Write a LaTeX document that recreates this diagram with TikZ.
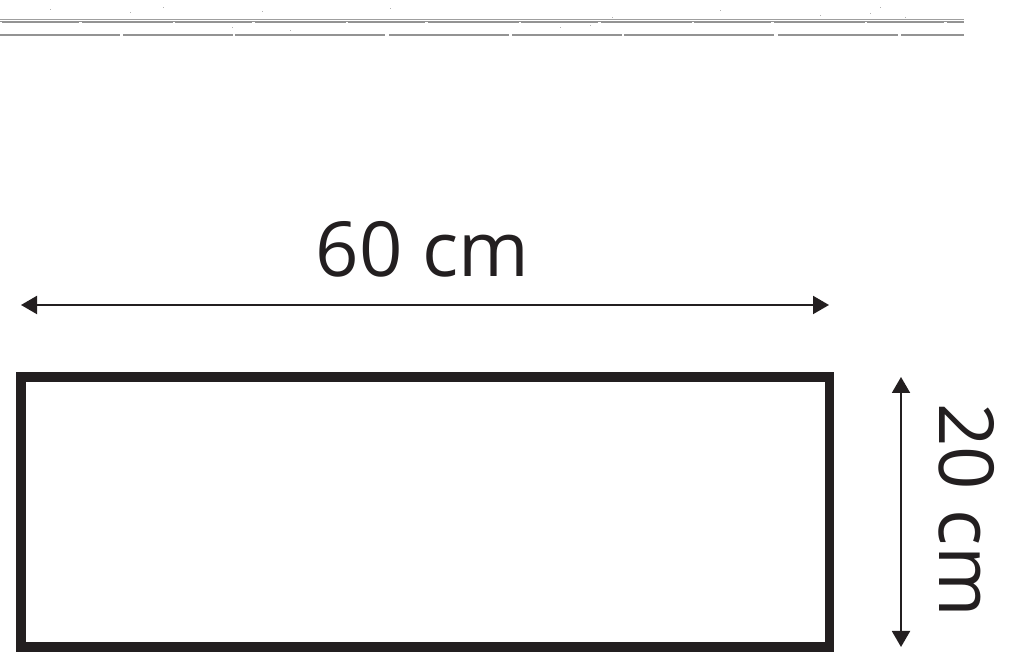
\documentclass[tikz,border=0pt]{standalone}
\usepackage{fontspec}
\setmainfont{Open Sans}
\usetikzlibrary{arrows.meta}
\definecolor{ink}{HTML}{231F20}
\tikzset{
  dimarrow/.style={draw=ink, line width=2pt, {Triangle[length=16pt,width=18pt]}-{Triangle[length=16pt,width=18pt]}},
  dimlabel/.style={text=ink, font=\fontsize{76}{80}\selectfont, inner sep=0pt, anchor=base},
  frame/.style={draw=ink, line width=9.5pt},
  grunge/.style={draw=gray!75, line width=1pt}
}
\begin{document}
\begin{tikzpicture}[x=1pt,y=1pt]
\useasboundingbox (0,0) rectangle (1020,668);
% top grungy lines
\draw[grunge] (0,648.5) -- (964,648.5);
\draw[grunge, draw=gray!85, line width=1.3pt] (0,646) -- (964,646);
\draw[grunge, draw=gray!85, line width=1.4pt, dash pattern=on 120pt off 3pt on 110pt off 2pt on 150pt off 4pt] (0,633) -- (964,633);
\draw[grunge, white, line width=0.8pt, dash pattern=on 2pt off 77pt on 3pt off 91pt] (0,646) -- (964,646);
\foreach \x/\y in {50/658,130/655,163/660,232/640,262/656,290/637,390/659,560/640,590/642,612/650,720/657,820/652,870/654,905/650,880/660}
  \fill[gray!60] (\x,\y) rectangle ++(1.2,1.2);
% rectangle
\draw[frame] (21,291) rectangle (829.5,21);
% horizontal dimension
\coordinate (hl) at (21,363);
\coordinate (hr) at (829,363);
\draw[dimarrow] (hl) -- (hr);
\node[dimlabel] (wlabel) at (422.5,391) {60 cm};
% vertical dimension
\coordinate (vt) at (901,291);
\coordinate (vb) at (901,21);
\draw[dimarrow] (vt) -- (vb);
\node[dimlabel, rotate=-90] (hlabel) at (939,158) {20 cm};
\end{tikzpicture}
\end{document}
